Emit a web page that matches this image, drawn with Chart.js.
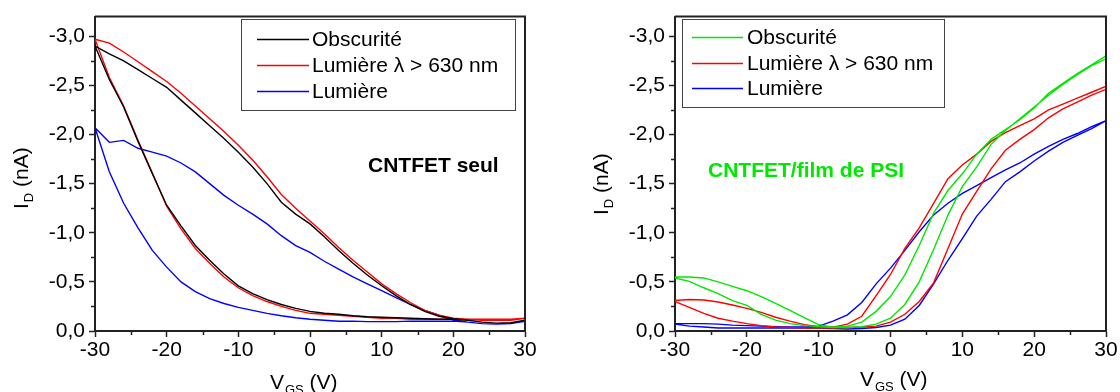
<!DOCTYPE html>
<html>
<head>
<meta charset="utf-8">
<script src="https://cdn.jsdelivr.net/npm/chart.js@4.4.1/dist/chart.umd.min.js"></script>
<style>
body{margin:0;background:#fff;width:1120px;height:392px;overflow:hidden;position:relative}
canvas{position:absolute;top:0}
#seul{left:0}
#psi{left:560px}
</style>
</head>
<body>
<canvas id="seul" width="560" height="392"></canvas>
<canvas id="psi" width="560" height="392"></canvas>
<script>

// V_GS (V), pas de 2 V
const vgs=[-30,-28,-26,-24,-22,-20,-18,-16,-14,-12,-10,-8,-6,-4,-2,0,2,4,6,8,10,12,14,16,18,20,22,24,26,28,30]

const xTicks=[-30,-20,-10,0,10,20,30]
const xMinor=[-25,-15,-5,5,15,25]
const yTicks=[-3,-2.5,-2,-1.5,-1,-0.5,0]
const yMinor=[-2.75,-2.25,-1.75,-1.25,-0.75,-0.25]

const labels=["Obscurité","Lumière λ > 630 nm","Lumière"]

// CNTFET seul : I_D (nA), branche haute / branche basse
const seulObscHaut=[-2.90,-2.82,-2.75,-2.66,-2.57,-2.48,-2.35,-2.22,-2.09,-1.96,-1.82,-1.67,-1.50,-1.31,-1.19,-1.09,-0.96,-0.82,-0.69,-0.57,-0.46,-0.36,-0.27,-0.20,-0.15,-0.125,-0.11,-0.09,-0.08,-0.08,-0.11]
const seulObscBas=[-2.90,-2.56,-2.28,-1.93,-1.60,-1.28,-1.07,-0.87,-0.72,-0.58,-0.46,-0.38,-0.32,-0.27,-0.23,-0.20,-0.18,-0.17,-0.155,-0.145,-0.14,-0.135,-0.13,-0.125,-0.12,-0.12,-0.11,-0.09,-0.08,-0.085,-0.11]
const seulRougeHaut=[-2.97,-2.93,-2.84,-2.74,-2.64,-2.54,-2.42,-2.29,-2.16,-2.03,-1.89,-1.74,-1.57,-1.39,-1.25,-1.12,-0.99,-0.85,-0.72,-0.60,-0.48,-0.38,-0.29,-0.21,-0.16,-0.13,-0.12,-0.12,-0.12,-0.12,-0.13]
const seulRougeBas=[-2.97,-2.58,-2.29,-1.94,-1.61,-1.27,-1.04,-0.84,-0.69,-0.55,-0.44,-0.36,-0.30,-0.25,-0.21,-0.18,-0.17,-0.16,-0.15,-0.14,-0.13,-0.13,-0.12,-0.12,-0.12,-0.12,-0.12,-0.11,-0.11,-0.11,-0.13]
const seulBleuHaut=[-2.07,-1.92,-1.94,-1.86,-1.82,-1.78,-1.71,-1.62,-1.50,-1.38,-1.28,-1.19,-1.09,-0.97,-0.87,-0.80,-0.71,-0.63,-0.55,-0.48,-0.41,-0.34,-0.27,-0.21,-0.16,-0.115,-0.09,-0.075,-0.07,-0.075,-0.10]
const seulBleuBas=[-2.07,-1.62,-1.30,-1.05,-0.82,-0.65,-0.50,-0.40,-0.33,-0.28,-0.24,-0.21,-0.18,-0.155,-0.135,-0.12,-0.11,-0.10,-0.10,-0.095,-0.095,-0.095,-0.10,-0.10,-0.10,-0.10,-0.09,-0.075,-0.07,-0.075,-0.10]

// CNTFET/film de PSI : I_D (nA), branche A / branche B
const psiObscA=[-0.55,-0.55,-0.54,-0.50,-0.455,-0.41,-0.35,-0.28,-0.21,-0.135,-0.065,-0.04,-0.05,-0.09,-0.20,-0.35,-0.57,-0.87,-1.20,-1.43,-1.60,-1.80,-1.95,-2.05,-2.15,-2.27,-2.42,-2.52,-2.62,-2.71,-2.80]
const psiObscB=[-0.54,-0.505,-0.44,-0.38,-0.31,-0.26,-0.17,-0.11,-0.075,-0.055,-0.045,-0.035,-0.035,-0.045,-0.07,-0.13,-0.27,-0.50,-0.83,-1.18,-1.47,-1.67,-1.90,-2.04,-2.16,-2.28,-2.40,-2.51,-2.61,-2.70,-2.77]
const psiRougeA=[-0.31,-0.32,-0.315,-0.295,-0.265,-0.23,-0.19,-0.14,-0.10,-0.065,-0.045,-0.04,-0.07,-0.15,-0.36,-0.575,-0.84,-1.05,-1.30,-1.55,-1.69,-1.80,-1.93,-2.02,-2.09,-2.16,-2.25,-2.31,-2.37,-2.43,-2.49]
const psiRougeB=[-0.30,-0.24,-0.18,-0.13,-0.10,-0.075,-0.055,-0.04,-0.035,-0.03,-0.03,-0.03,-0.035,-0.04,-0.05,-0.09,-0.17,-0.30,-0.49,-0.84,-1.19,-1.42,-1.65,-1.84,-1.95,-2.05,-2.17,-2.26,-2.33,-2.40,-2.46]
const psiBleuA=[-0.075,-0.075,-0.075,-0.07,-0.06,-0.055,-0.05,-0.045,-0.04,-0.04,-0.05,-0.10,-0.165,-0.29,-0.48,-0.64,-0.82,-1.01,-1.18,-1.30,-1.40,-1.48,-1.56,-1.64,-1.71,-1.80,-1.88,-1.95,-2.01,-2.08,-2.14]
const psiBleuB=[-0.07,-0.05,-0.04,-0.03,-0.03,-0.03,-0.03,-0.03,-0.03,-0.03,-0.03,-0.025,-0.02,-0.025,-0.035,-0.06,-0.12,-0.26,-0.48,-0.72,-0.94,-1.17,-1.34,-1.52,-1.62,-1.73,-1.83,-1.92,-1.99,-2.06,-2.14]

const GREEN="#00e800"
const FONT="'Liberation Sans', Arial, sans-serif"

Chart.defaults.font.family=FONT
Chart.defaults.color="#000"


function loop(a,b){
const aller=a.map((v,i)=>({x:vgs[i],y:v}))
const retour=b.map((v,i)=>({x:vgs[i],y:v})).reverse()
return aller.concat(retour)
}


// cadre, ticks mineurs, légende, titres d'axes
const decor={
id:"decor",
afterDraw(chart,args,o){

const ctx=chart.ctx
const a=chart.chartArea
const sx=chart.scales.x
const sy=chart.scales.y

ctx.save()

ctx.strokeStyle="#222"
ctx.lineWidth=1.5
ctx.beginPath()
xMinor.forEach(v=>{
const p=Math.round(sx.getPixelForValue(v))+0.5
ctx.moveTo(p,a.bottom)
ctx.lineTo(p,a.bottom+4)
})
yMinor.forEach(v=>{
const p=Math.round(sy.getPixelForValue(v))+0.5
ctx.moveTo(a.left,p)
ctx.lineTo(a.left-4,p)
})
ctx.stroke()

ctx.lineWidth=2
ctx.beginPath()
ctx.moveTo(a.left,a.top)
ctx.lineTo(a.right,a.top)
ctx.lineTo(a.right,a.bottom)
ctx.stroke()

// légende
const [bx,by,bw,bh]=o.box
ctx.fillStyle="#fff"
ctx.fillRect(bx,by,bw,bh)
ctx.strokeStyle="#444"
ctx.lineWidth=1
ctx.strokeRect(bx+0.5,by+0.5,bw,bh)

ctx.font="21px "+FONT
ctx.textBaseline="middle"
ctx.textAlign="left"
chart.data.datasets.forEach((d,i)=>{
const yy=o.rows[i]+0.5
ctx.strokeStyle=d.borderColor
ctx.lineWidth=1.4
ctx.beginPath()
ctx.moveTo(o.line[0],yy)
ctx.lineTo(o.line[1],yy)
ctx.stroke()
ctx.fillStyle="#000"
ctx.fillText(d.label,o.textX,o.rows[i]+1)
})

// annotation
ctx.font="bold 21px "+FONT
ctx.fillStyle=o.noteColor
ctx.fillText(o.note,o.noteX,o.noteY)

// I_D (nA)
ctx.fillStyle="#000"
ctx.textBaseline="alphabetic"
ctx.save()
ctx.translate(o.yTitle[0],o.yTitle[1])
ctx.rotate(-Math.PI/2)
ctx.font="21px "+FONT
ctx.fillText("I",0,0)
let w=ctx.measureText("I").width
ctx.font="13px "+FONT
ctx.fillText("D",w+1,5)
w+=ctx.measureText("D").width+1
ctx.font="21px "+FONT
ctx.fillText(" (nA)",w,0)
ctx.restore()

// V_GS (V)
ctx.font="21px "+FONT
ctx.fillText("V",o.xTitle[0],o.xTitle[1])
let xw=o.xTitle[0]+ctx.measureText("V").width
ctx.font="13px "+FONT
ctx.fillText("GS",xw+1,o.xTitle[1]+5)
xw+=ctx.measureText("GS").width+1
ctx.font="21px "+FONT
ctx.fillText(" (V)",xw,o.xTitle[1])

ctx.restore()

}
}


function makeChart(id,series,colors,pad,yWidth,opts){

return new Chart(document.getElementById(id),{

type:"scatter",

data:{
datasets:series.map((s,i)=>({
label:labels[i],
data:loop(s[0],s[1]),
showLine:true,
borderColor:colors[i],
borderWidth:1.4,
pointRadius:0,
fill:false
}))
},

options:{
responsive:false,
animation:false,
layout:{padding:pad},
plugins:{
legend:{display:false},
tooltip:{enabled:false},
decor:opts
},
scales:{
x:{
type:"linear",
min:-30,
max:30,
afterBuildTicks:s=>{s.ticks=xTicks.map(v=>({value:v}))},
afterFit:s=>{s.height=61},
ticks:{
font:{size:21},
color:"#000",
padding:1,
maxRotation:0,
autoSkip:false,
callback:v=>String(v)
},
grid:{display:true,drawOnChartArea:false,drawTicks:true,tickLength:6,tickColor:"#222",tickWidth:1.5},
border:{display:true,color:"#222",width:2}
},
y:{
type:"linear",
min:-3.2,
max:0,
reverse:true,
afterBuildTicks:s=>{s.ticks=yTicks.map(v=>({value:v}))},
afterFit:s=>{s.width=yWidth},
ticks:{
font:{size:21},
color:"#000",
padding:4,
autoSkip:false,
callback:v=>v===0?"0,0":v.toFixed(1).replace(".",",")
},
grid:{display:true,drawOnChartArea:false,drawTicks:true,tickLength:6,tickColor:"#222",tickWidth:1.5},
border:{display:true,color:"#222",width:2}
}
}
},

plugins:[decor]

})

}


makeChart("seul",
[[seulObscHaut,seulObscBas],[seulRougeHaut,seulRougeBas],[seulBleuHaut,seulBleuBas]],
["#000000","#ff0000","#0000ff"],
{left:0,right:35,top:13,bottom:0},
95,
{box:[241,19,274,91],rows:[39,65,91],line:[257,309],textX:312,note:"CNTFET seul",noteX:368,noteY:166,noteColor:"#000",yTitle:[28,209],xTitle:[270,389]}
)

makeChart("psi",
[[psiObscA,psiObscB],[psiRougeA,psiRougeB],[psiBleuA,psiBleuB]],
[GREEN,"#ff0000","#0000ff"],
{left:0,right:14,top:12,bottom:0},
115,
{box:[122,19,262,88],rows:[37,63,88],line:[132,183],textX:187,note:"CNTFET/film de PSI",noteX:148,noteY:171,noteColor:GREEN,yTitle:[48,215],xTitle:[300,386]}
)

</script>
</body>
</html>
